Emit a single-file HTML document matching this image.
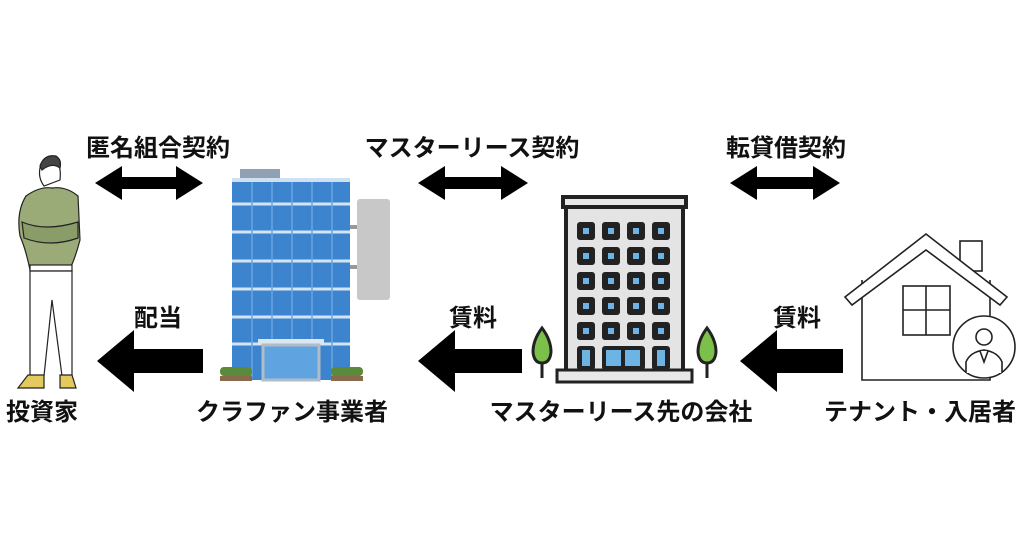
<!DOCTYPE html>
<html><head><meta charset="utf-8"><style>
html,body{margin:0;padding:0;background:#fff;}
svg{display:block}
text{font-family:"Liberation Sans","Noto Sans CJK JP",sans-serif;font-weight:bold;fill:#111;}
</style></head><body>
<svg width="1024" height="547" viewBox="0 0 1024 547" xmlns="http://www.w3.org/2000/svg">
<g font-size="24" text-anchor="middle">
<text x="158" y="156">匿名組合契約</text>
<text x="472" y="156">マスターリース契約</text>
<text x="786" y="156">転貸借契約</text>
<text x="158" y="326">配当</text>
<text x="473" y="326">賃料</text>
<text x="797" y="326">賃料</text>
<text x="42" y="420">投資家</text>
<text x="292" y="420">クラファン事業者</text>
<text x="621" y="420">マスターリース先の会社</text>
<text x="920" y="420">テナント・入居者</text>
</g>
<g fill="#000">
<polygon points="95,183 122,166 122,177 176,177 176,166 203,183 176,200 176,189 122,189 122,200"/>
<polygon points="418,183 445,166 445,177 501,177 501,166 528,183 501,200 501,189 445,189 445,200"/>
<polygon points="730,183 757,166 757,177 813,177 813,166 840,183 813,200 813,189 757,189 757,200"/>
<polygon points="97,361 134,330 134,349 203,349 203,373 134,373 134,392"/>
<polygon points="418,361 455,330 455,349 522,349 522,373 455,373 455,392"/>
<polygon points="740,361 777,330 777,349 843,349 843,373 777,373 777,392"/>
</g>
<!-- person -->
<g stroke="#222" stroke-width="1.2">
<path d="M40 168 Q42 158 52 158 Q62 162 60 180 L44 186 Q38 178 40 168Z" fill="#fff"/>
<path d="M40 166 Q44 154 56 156 Q62 160 60 168 Q52 162 42 170Z" fill="#444"/>
<path d="M26 196 Q40 186 52 188 Q66 186 78 196 L80 240 Q74 262 70 268 L30 270 Q26 250 20 236 Q16 212 26 196Z" fill="#9aab78"/>
<path d="M22 222 Q45 232 78 222 L78 238 Q50 248 24 238Z" fill="#8a9c68"/>
<rect x="30" y="265" width="42" height="6" fill="#fff"/>
<path d="M30 271 L72 271 L72 375 L62 376 L52 300 L44 376 L30 376 Z" fill="#fff"/>
<path d="M28 375 L44 375 L44 388 L18 388 Z" fill="#e3c95e"/>
<path d="M60 375 L72 375 L76 388 L60 388 Z" fill="#e3c95e"/>
</g>
<!-- blue building -->
<rect x="240" y="169" width="40" height="9" fill="#8fa1b3"/>
<rect x="232" y="178" width="118" height="202" fill="#3d84cf"/>
<g stroke="#d4e4f4" stroke-width="3">
<line x1="232" y1="204" x2="350" y2="204"/><line x1="232" y1="232" x2="350" y2="232"/>
<line x1="232" y1="261" x2="350" y2="261"/><line x1="232" y1="289" x2="350" y2="289"/>
<line x1="232" y1="317" x2="350" y2="317"/><line x1="232" y1="344" x2="350" y2="344"/>
</g>
<g stroke="#6aa5e0" stroke-width="1.5">
<line x1="252" y1="180" x2="252" y2="378"/><line x1="272" y1="180" x2="272" y2="378"/>
<line x1="292" y1="180" x2="292" y2="378"/><line x1="312" y1="180" x2="312" y2="378"/>
<line x1="332" y1="180" x2="332" y2="378"/>
</g>
<rect x="232" y="178" width="118" height="4" fill="#cfe0f0"/>
<rect x="350" y="225" width="8" height="4" fill="#999"/><rect x="350" y="265" width="8" height="4" fill="#999"/>
<rect x="357" y="199" width="33" height="101" rx="3" fill="#c8c8c8"/>
<rect x="258" y="339" width="66" height="6" fill="#dde6ef"/>
<rect x="263" y="345" width="56" height="35" fill="#5fa3e0" stroke="#b0bcc8" stroke-width="3"/>
<rect x="220" y="367" width="32" height="9" rx="4" fill="#5a8a3a"/><rect x="220" y="376" width="32" height="5" fill="#8a6a4a"/>
<rect x="331" y="367" width="32" height="9" rx="4" fill="#5a8a3a"/><rect x="331" y="376" width="32" height="5" fill="#8a6a4a"/>
<!-- black building -->
<rect x="563" y="197" width="123" height="10" fill="#e8e8e8" stroke="#222" stroke-width="4"/>
<rect x="566" y="207" width="117" height="165" fill="#e4e4e4" stroke="#222" stroke-width="4"/>
<g fill="#222">
<rect x="577" y="222" width="18" height="18" rx="3"/><rect x="602" y="222" width="18" height="18" rx="3"/><rect x="627" y="222" width="18" height="18" rx="3"/><rect x="652" y="222" width="18" height="18" rx="3"/>
<rect x="577" y="247" width="18" height="18" rx="3"/><rect x="602" y="247" width="18" height="18" rx="3"/><rect x="627" y="247" width="18" height="18" rx="3"/><rect x="652" y="247" width="18" height="18" rx="3"/>
<rect x="577" y="272" width="18" height="18" rx="3"/><rect x="602" y="272" width="18" height="18" rx="3"/><rect x="627" y="272" width="18" height="18" rx="3"/><rect x="652" y="272" width="18" height="18" rx="3"/>
<rect x="577" y="297" width="18" height="18" rx="3"/><rect x="602" y="297" width="18" height="18" rx="3"/><rect x="627" y="297" width="18" height="18" rx="3"/><rect x="652" y="297" width="18" height="18" rx="3"/>
<rect x="577" y="322" width="18" height="18" rx="3"/><rect x="602" y="322" width="18" height="18" rx="3"/><rect x="627" y="322" width="18" height="18" rx="3"/><rect x="652" y="322" width="18" height="18" rx="3"/>
<rect x="577" y="346" width="18" height="24" rx="3"/><rect x="602" y="346" width="43" height="24" rx="3"/><rect x="652" y="346" width="18" height="24" rx="3"/>
</g>
<rect x="557" y="370" width="135" height="12" fill="#e8e8e8" stroke="#222" stroke-width="3"/>
<g fill="#6cb4e4">
<rect x="583" y="228" width="6" height="6"/><rect x="608" y="228" width="6" height="6"/><rect x="633" y="228" width="6" height="6"/><rect x="658" y="228" width="6" height="6"/>
<rect x="583" y="253" width="6" height="6"/><rect x="608" y="253" width="6" height="6"/><rect x="633" y="253" width="6" height="6"/><rect x="658" y="253" width="6" height="6"/>
<rect x="583" y="278" width="6" height="6"/><rect x="608" y="278" width="6" height="6"/><rect x="633" y="278" width="6" height="6"/><rect x="658" y="278" width="6" height="6"/>
<rect x="583" y="303" width="6" height="6"/><rect x="608" y="303" width="6" height="6"/><rect x="633" y="303" width="6" height="6"/><rect x="658" y="303" width="6" height="6"/>
<rect x="583" y="328" width="6" height="6"/><rect x="608" y="328" width="6" height="6"/><rect x="633" y="328" width="6" height="6"/><rect x="658" y="328" width="6" height="6"/>
<rect x="582" y="350" width="8" height="16"/><rect x="606" y="350" width="15" height="16"/><rect x="625" y="350" width="15" height="16"/><rect x="657" y="350" width="8" height="16"/>
</g>
<g stroke="#222" stroke-width="3">
<line x1="542" y1="360" x2="542" y2="378"/><line x1="707" y1="360" x2="707" y2="378"/>
<path d="M542 328 Q533 340 533 352 Q534 363 542 363 Q550 363 551 352 Q551 340 542 328Z" fill="#7cc04c"/>
<path d="M707 328 Q698 340 698 352 Q699 363 707 363 Q715 363 716 352 Q716 340 707 328Z" fill="#7cc04c"/>
</g>
<!-- house -->
<g stroke="#222" stroke-width="1.6" fill="#fff">
<rect x="960" y="241" width="22" height="30"/>
<path d="M862 280 L862 380 L990 380 L990 280"/>
<path d="M845 297 L926 234 L1007 297 L1000 305 L926 250 L852 305 Z"/>
<rect x="903" y="286" width="47" height="49"/>
<line x1="926" y1="286" x2="926" y2="335"/><line x1="903" y1="310" x2="950" y2="310"/>
<circle cx="984" cy="347" r="31"/>
<circle cx="984" cy="337" r="8"/>
<path d="M966 373 L966 362 Q970 352 984 350 Q998 352 1002 362 L1002 373"/>
<path d="M980 351 L984 362 L988 351"/>
</g>
</svg>
</body></html>
